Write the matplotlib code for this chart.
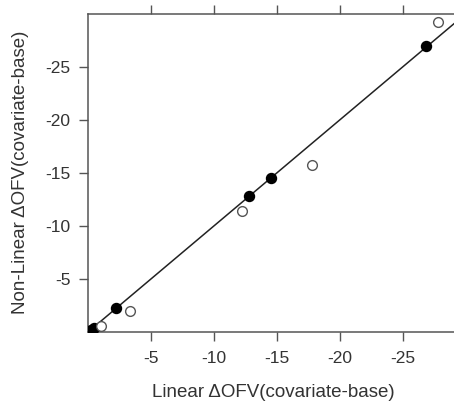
import matplotlib
matplotlib.use('Agg')

import numpy as np
import matplotlib.pyplot as plt

plt.rcParams['font.family'] = ['Liberation Sans', 'DejaVu Sans']
plt.rcParams['axes.unicode_minus'] = False

# Delta OFV values: linear approximation vs full non-linear model
lin_filled = [-0.2, -0.5, -2.25, -12.8, -14.5, -26.8]
nonlin_filled = [-0.2, -0.4, -2.3, -12.8, -14.5, -26.9]

lin_open = [-1.0, -3.3, -12.2, -17.8, -27.8]
nonlin_open = [-0.6, -2.0, -11.4, -15.7, -29.2]

ticks = [-5, -10, -15, -20, -25]
tick_labels = ['-5', '-10', '-15', '-20', '-25']

fig = plt.figure(figsize=(4.54, 4.03), dpi=100)
ax = fig.add_axes([88/454, 71/403, 1.0 - 88/454 + 0.01, 318.5/403])

# identity line
ref = np.array([0.0, -31.0])
ax.plot(ref, ref, '-', color='#222222', lw=1.1, zorder=1)

ax.plot(lin_filled, nonlin_filled, 'o', ms=7.2, mfc='black', mec='black', zorder=3)
ax.plot(lin_open, nonlin_open, 'o', ms=7.0, mfc='white', mec='#555555', mew=1.0, zorder=3)

ax.set_xlim(0, -29.4)
ax.set_ylim(0, -30.0)

ax.set_xticks(ticks)
ax.set_xticklabels(tick_labels)
ax.set_yticks(ticks)
ax.set_yticklabels(tick_labels)

for s in ['left', 'bottom', 'top']:
    ax.spines[s].set_color('#555555')
    ax.spines[s].set_linewidth(1.1)
ax.spines['right'].set_visible(False)

ax.tick_params(axis='both', direction='out', length=6.5, width=1.0, color='#555555',
               labelsize=12.5, labelcolor='#333333')
ax.tick_params(axis='x', pad=7)
ax.tick_params(axis='y', pad=6)
ax.tick_params(axis='x', top=True, labeltop=False)

ax.set_xlabel('Linear ΔOFV(covariate-base)', fontsize=13.5, color='#333333', labelpad=13)
ax.set_ylabel('Non-Linear ΔOFV(covariate-base)', fontsize=13.5, color='#333333', labelpad=12)

plt.savefig('out.png', dpi=100)
